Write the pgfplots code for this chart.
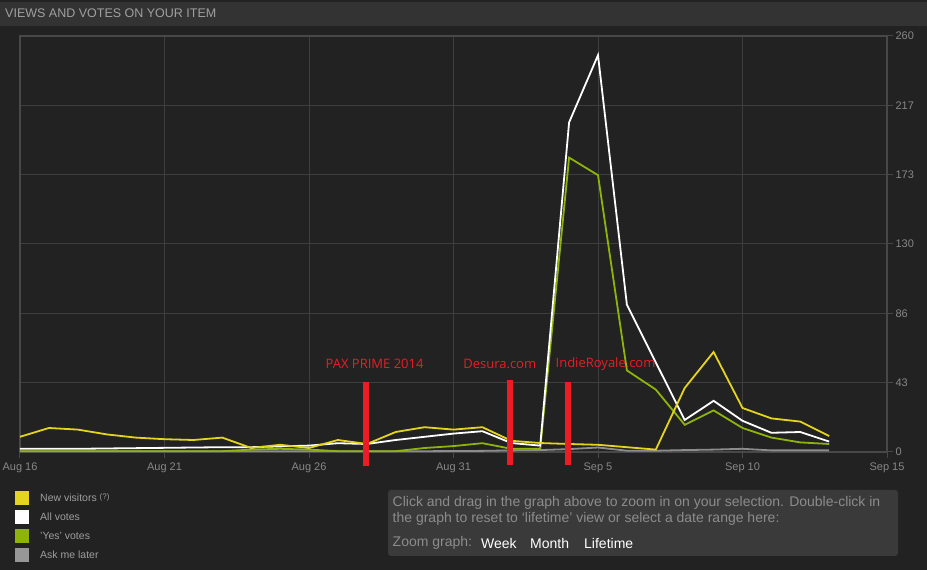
\documentclass[border=0pt]{standalone}
\usepackage{pgfplots}
\pgfplotsset{compat=1.18}
\usepackage{fontspec}
\setmainfont{Liberation Sans}
\newfontfamily\annofont{Open Sans}
\definecolor{bg}{RGB}{34,34,34}
\definecolor{titlebar}{RGB}{51,51,51}
\definecolor{titletext}{RGB}{160,160,160}
\definecolor{frame}{RGB}{72,72,72}
\definecolor{gridc}{RGB}{62,62,62}
\definecolor{ticktext}{RGB}{135,135,135}
\definecolor{legtext}{RGB}{158,158,158}
\definecolor{boxbg}{RGB}{58,58,58}
\definecolor{boxtext}{RGB}{140,140,140}
\definecolor{visitors}{RGB}{228,212,32}
\definecolor{yesvotes}{RGB}{142,180,10}
\definecolor{asklater}{RGB}{140,140,140}
\definecolor{annored}{RGB}{236,28,36}

% day 0 = Aug 16
\pgfplotstableread{
day visitors all yes later
0  9.5  2.0  0.5  0.5
1  15   2.0  0.5  0.5
2  14   2.0  0.5  0.5
3  11   2.2  0.5  0.5
4  9    2.4  0.5  0.5
5  8    2.6  0.5  0.5
6  7.5  2.8  0.5  0.5
7  9    3.0  0.5  0.5
8  2.5  3.0  1.5  0.5
9  4.5  3.5  2.0  0.5
10 2.5  4.0  1.5  0.5
11 7.5  5.5  0.5  0.5
12 5    5.0  0.5  0.5
13 12.5 7.5  0.5  0.5
14 15.5 9.5  2.5  0.5
15 14   11.5 3.7  0.6
16 15.5 13   5.5  0.7
17 7    5.6  2.0  1.0
18 5.6  4.0  2.0  1.2
19 5    206  184  1.8
20 4.5  248  173  2.8
21 3    92   51   0.8
22 1.5  56   39   0.8
23 40   20   17   1.2
24 62.5 32   26   1.5
25 27.5 19.5 15   2.0
26 21   12   9    1.0
27 19   12.5 6    1.0
28 10   6.5  5    1.0
}\viewsdata

\begin{document}
\begin{tikzpicture}[x=1pt,y=1pt]
\useasboundingbox (0,0) rectangle (927,570);
\fill[bg] (0,0) rectangle (927,570);
\fill[titlebar] (0,544) rectangle (927,568);
\node[anchor=west,text=titletext,font=\fontsize{12.5}{14}\selectfont,inner sep=0pt] at (5,557) {VIEWS AND VOTES ON YOUR ITEM};

\begin{axis}[
  at={(20pt,118pt)}, anchor=south west,
  scale only axis, width=867pt, height=416pt,
  xmin=0, xmax=30, ymin=0, ymax=260,
  xtick={0,5,10,15,20,25,30},
  xticklabels={Aug 16,Aug 21,Aug 26,Aug 31,Sep 5,Sep 10,Sep 15},
  ytick={0,43.333,86.667,130,173.333,216.667,260},
  yticklabels={0,43,86,130,173,217,260},
  xtick pos=left, ytick pos=right,
  yticklabel pos=right,
  tick align=outside, major tick length=6pt,
  tick style={color=frame, line width=1pt},
  grid=major,
  major grid style={color=gridc, line width=1pt},
  axis line style={color=frame, line width=1.5pt},
  /pgf/number format/assume math mode=true,
  ticklabel style={text=ticktext, font=\fontsize{11}{13}\selectfont},
  xticklabel style={yshift=-1pt},
  yticklabel style={xshift=-1pt},
  clip=false,
  every axis plot/.append style={line width=1.8pt, line join=miter, mark=none},
]
\addplot[asklater] table[x=day,y=later] {\viewsdata};
\addplot[yesvotes] table[x=day,y=yes] {\viewsdata};
\addplot[white] table[x=day,y=all] {\viewsdata};
\addplot[visitors] table[x=day,y=visitors] {\viewsdata};

% annotations
\draw[annored, line width=5.5pt] (axis cs:11.97,43.75) -- (axis cs:11.97,-8.75);
\draw[annored, line width=5.5pt] (axis cs:16.96,45) -- (axis cs:16.96,-8.2);
\draw[annored, line width=5.5pt] (axis cs:18.96,44) -- (axis cs:18.96,-8.2);
\node[text=annored, font=\annofont\fontsize{13}{15}\selectfont] at (axis cs:12.27,55) {PAX PRIME 2014};
\node[text=annored, font=\annofont\fontsize{13}{15}\selectfont] at (axis cs:16.6,55) {Desura.com};
\node[text=annored, font=\annofont\fontsize{13}{15}\selectfont] at (axis cs:20.26,55) {IndieRoyale.com};
\end{axis}

% legend
\fill[visitors] (15,65) rectangle (29,79);
\fill[white] (15,46) rectangle (29,60);
\fill[yesvotes] (15,27) rectangle (29,41);
\fill[asklater!90!white] (15,8) rectangle (29,22);
\begin{scope}[every node/.style={anchor=west,inner sep=0pt,text=legtext,font=\fontsize{10.5}{12}\selectfont}]
\node at (40,72) {New visitors \raisebox{2pt}{\fontsize{8}{9}\selectfont(?)}};
\node at (40,53) {All votes};
\node at (40,34) {'Yes' votes};
\node at (40,15) {Ask me later};
\end{scope}

% zoom box
\fill[boxbg, rounded corners=3pt] (388,14) rectangle (898,80);
\begin{scope}[every node/.style={anchor=west,inner sep=0pt,font=\fontsize{14}{16}\selectfont}]
\node[text=boxtext] at (392.5,67) {Click and drag in the graph above to zoom in on your selection. Double-click in};
\node[text=boxtext] at (392.5,51) {the graph to reset to `lifetime' view or select a date range here:};
\node[text=boxtext] at (392.5,27) {Zoom graph:};
\node[text=white] at (481,27) {Week};
\node[text=white] at (530,27) {Month};
\node[text=white] at (584,27) {Lifetime};
\end{scope}
\end{tikzpicture}
\end{document}
